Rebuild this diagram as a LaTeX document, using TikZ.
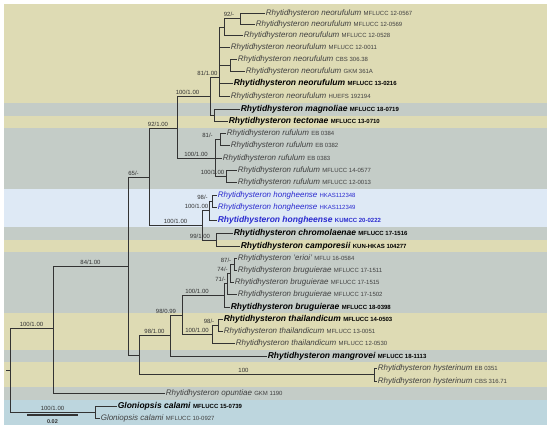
\documentclass[tikz,border=0pt]{standalone}
\usepackage{fontspec}
\setmainfont{Liberation Sans}
\definecolor{bandkhaki}{HTML}{DEDBB4}
\definecolor{bandgrey}{HTML}{C4CCC7}
\definecolor{bandsky}{HTML}{DEE9F5}
\definecolor{bandteal}{HTML}{BDD6DE}
\definecolor{ink}{HTML}{333333}
\definecolor{txt}{HTML}{404040}
\definecolor{hongblue}{HTML}{2A2ACF}
\newcommand{\taxon}[2]{\textit{#1}~{\fontsize{6}{7}\selectfont #2}}

\begin{document}
\begin{tikzpicture}[
  x=1pt, y=-1pt,
  br/.style={draw=ink, line width=0.8pt},
  leaf/.style={anchor=west, inner sep=0.6pt, text=txt, font=\fontsize{8}{9}\selectfont},
  leafb/.style={leaf, text=black, font=\fontsize{8.5}{10}\selectfont\bfseries},
  supp/.style={above, inner sep=1.5pt, text=ink, font=\fontsize{6}{7}\selectfont}
]
\fill[white] (0,0) rectangle (550,429);
\useasboundingbox (0,0) rectangle (550,429);
% clade bands
\foreach \ya/\yb/\col in {4/103/bandkhaki,103/116/bandgrey,116/128/bandkhaki,
    128/189/bandgrey,189/227/bandsky,227/240/bandgrey,240/252/bandkhaki,
    252/313/bandgrey,313/350/bandkhaki,350/362/bandgrey,362/387/bandkhaki,
    387/400/bandgrey,400/425/bandteal}
  \fill[\col] (4,\ya) rectangle (547,\yb);

% taxa
\node[leaf]  (l1)  at (265,13)  {\taxon{Rhytidhysteron neorufulum}{MFLUCC 12-0567}};
\node[leaf]  (l2)  at (255,24)  {\taxon{Rhytidhysteron neorufulum}{MFLUCC 12-0569}};
\node[leaf]  (l3)  at (243,35)  {\taxon{Rhytidhysteron neorufulum}{MFLUCC 12-0528}};
\node[leaf]  (l4)  at (230,47)  {\taxon{Rhytidhysteron neorufulum}{MFLUCC 12-0011}};
\node[leaf]  (l5)  at (237,59)  {\taxon{Rhytidhysteron neorufulum}{CBS 306.38}};
\node[leaf]  (l6)  at (245,71)  {\taxon{Rhytidhysteron neorufulum}{GKM 361A}};
\node[leafb] (l7)  at (233,83)  {\taxon{Rhytidhysteron neorufulum}{MFLUCC 13-0216}};
\node[leaf]  (l8)  at (230,96)  {\taxon{Rhytidhysteron neorufulum}{HUEFS 192194}};
\node[leafb] (l9)  at (240,109) {\taxon{Rhytidhysteron magnoliae}{MFLUCC 18-0719}};
\node[leafb] (l10) at (228,121) {\taxon{Rhytidhysteron tectonae}{MFLUCC 13-0710}};
\node[leaf]  (l11) at (226,133) {\taxon{Rhytidhysteron rufulum}{EB 0384}};
\node[leaf]  (l12) at (230,145) {\taxon{Rhytidhysteron rufulum}{EB 0382}};
\node[leaf]  (l13) at (222,158) {\taxon{Rhytidhysteron rufulum}{EB 0383}};
\node[leaf]  (l14) at (237,170) {\taxon{Rhytidhysteron rufulum}{MFLUCC 14-0577}};
\node[leaf]  (l15) at (237,182) {\taxon{Rhytidhysteron rufulum}{MFLUCC 12-0013}};
\node[leaf, text=hongblue]  (l16) at (217,195) {\taxon{Rhytidhysteron hongheense}{HKAS112348}};
\node[leaf, text=hongblue]  (l17) at (217,207) {\taxon{Rhytidhysteron hongheense}{HKAS112349}};
\node[leafb, text=hongblue] (l18) at (217,220) {\taxon{Rhytidhysteron hongheense}{KUMCC 20-0222}};
\node[leafb] (l19) at (233,233) {\taxon{Rhytidhysteron chromolaenae}{MFLUCC 17-1516}};
\node[leafb] (l20) at (240,246) {\taxon{Rhytidhysteron camporesii}{KUN-HKAS 104277}};
\node[leaf]  (l21) at (237,258) {\taxon{Rhytidhysteron 'erioi'}{MFLU 16-0584}};
\node[leaf]  (l22) at (237,270) {\taxon{Rhytidhysteron bruguierae}{MFLUCC 17-1511}};
\node[leaf]  (l23) at (234,282) {\taxon{Rhytidhysteron bruguierae}{MFLUCC 17-1515}};
\node[leaf]  (l24) at (237,294) {\taxon{Rhytidhysteron bruguierae}{MFLUCC 17-1502}};
\node[leafb] (l25) at (230,307) {\taxon{Rhytidhysteron bruguierae}{MFLUCC 18-0398}};
\node[leafb] (l26) at (223,319) {\taxon{Rhytidhysteron thailandicum}{MFLUCC 14-0503}};
\node[leaf]  (l27) at (223,331) {\taxon{Rhytidhysteron thailandicum}{MFLUCC 13-0051}};
\node[leaf]  (l28) at (235,343) {\taxon{Rhytidhysteron thailandicum}{MFLUCC 12-0530}};
\node[leafb] (l29) at (267,356) {\taxon{Rhytidhysteron mangrovei}{MFLUCC 18-1113}};
\node[leaf]  (l30) at (377,368) {\taxon{Rhytidhysteron hysterinum}{EB 0351}};
\node[leaf]  (l31) at (377,381) {\taxon{Rhytidhysteron hysterinum}{CBS 316.71}};
\node[leaf]  (l32) at (165,393) {\taxon{Rhytidhysteron opuntiae}{GKM 1190}};
\node[leafb] (l33) at (117,406) {\taxon{Gloniopsis calami}{MFLUCC 15-0739}};
\node[leaf]  (l34) at (100,418) {\taxon{Gloniopsis calami}{MFLUCC 10-0927}};

% internal nodes
\coordinate (stub) at (6,370);
\coordinate (root) at (10,370);
\coordinate (G)    at (95,412);
\coordinate (A)    at (53,328);
\coordinate (B)    at (128,266);
\coordinate (C)    at (149,177);
\coordinate (D)    at (177,128);
\coordinate (N100) at (210,96);
\coordinate (N81n) at (219,77);
\coordinate (P)    at (224,27);
\coordinate (Q92)  at (240,18.5);
\coordinate (CG)   at (230,65);
\coordinate (MT)   at (214,115);
\coordinate (Ru)   at (215,158);
\coordinate (N81r) at (220,139);
\coordinate (N100r) at (226,176);
\coordinate (O)    at (202,225);
\coordinate (Hong) at (209,210);
\coordinate (N98h) at (212,201);
\coordinate (Chrom) at (216,240);
\coordinate (E)    at (139,355);
\coordinate (F)    at (170,335);
\coordinate (H)    at (182,315);
\coordinate (I)    at (224,295);
\coordinate (N71)  at (227,283);
\coordinate (N74)  at (230,273);
\coordinate (N87)  at (234,264);
\coordinate (J)    at (212,334);
\coordinate (K)    at (218,325);
\coordinate (Hy)   at (374,374);

% branches
\draw[br] (stub) -- (root);
\draw[br] (root) |- node[supp,pos=.75]{100/1.00} (A);
\draw[br] (root) |- node[supp,pos=.75]{100/1.00} (G);
\draw[br] (G) |- (l33);
\draw[br] (G) |- (l34);
\draw[br] (A) |- node[supp,pos=.75]{84/1.00} (B);
\draw[br] (A) |- (l32);
\draw[br] (B) |- node[supp,pos=.75,xshift=-5pt]{65/-} (C);
\draw[br] (B) |- (E);
\draw[br] (C) |- node[supp,pos=.75,xshift=-5pt]{92/1.00} (D);
\draw[br] (C) |- node[supp,pos=.75]{100/1.00} (O);
\draw[br] (D) |- node[supp,pos=.75,xshift=-6pt]{100/1.00} (N100);
\draw[br] (D) |- node[supp,pos=.75]{100/1.00} (Ru);
\draw[br] (N100) |- node[supp,pos=.75,xshift=-7pt]{81/1.00} (N81n);
\draw[br] (N100) |- (MT);
\draw[br] (N81n) |- (P);
\draw[br] (N81n) |- (l4);
\draw[br] (N81n) |- (CG);
\draw[br] (N81n) |- (l7);
\draw[br] (N81n) |- (l8);
\draw[br] (P) |- node[supp,pos=.75,xshift=-3pt]{92/-} (Q92);
\draw[br] (P) |- (l3);
\draw[br] (Q92) |- (l1);
\draw[br] (Q92) |- (l2);
\draw[br] (CG) |- (l5);
\draw[br] (CG) |- (l6);
\draw[br] (MT) |- (l9);
\draw[br] (MT) |- (l10);
\draw[br] (Ru) |- node[supp,pos=.75,xshift=-10pt]{81/-} (N81r);
\draw[br] (Ru) |- (l13);
\draw[br] (Ru) |- node[supp,pos=.75,xshift=-8pt]{100/1.00} (N100r);
\draw[br] (N81r) |- (l11);
\draw[br] (N81r) |- (l12);
\draw[br] (N100r) |- (l14);
\draw[br] (N100r) |- (l15);
\draw[br] (O) |- node[supp,pos=.75,xshift=-9pt]{100/1.00} (Hong);
\draw[br] (O) |- node[supp,pos=.75,xshift=-9pt]{99/1.00} (Chrom);
\draw[br] (Hong) |- node[supp,pos=.75,xshift=-8pt]{98/-} (N98h);
\draw[br] (Hong) |- (l18);
\draw[br] (N98h) |- (l16);
\draw[br] (N98h) |- (l17);
\draw[br] (Chrom) |- (l19);
\draw[br] (Chrom) |- (l20);
\draw[br] (E) |- node[supp,pos=.75]{98/1.00} (F);
\draw[br] (E) |- node[supp,pos=.75,xshift=-13pt]{100} (Hy);
\draw[br] (F) |- node[supp,pos=.75,xshift=-10pt]{98/0.99} (H);
\draw[br] (F) |- (l29);
\draw[br] (H) |- node[supp,pos=.75,xshift=-6pt]{100/1.00} (I);
\draw[br] (H) |- node[supp,pos=.75]{100/1.00} (J);
\draw[br] (I) |- node[supp,pos=.75,xshift=-5pt]{71/-} (N71);
\draw[br] (I) |- (l25);
\draw[br] (N71) |- node[supp,pos=.75,xshift=-6pt]{74/-} (N74);
\draw[br] (N71) |- (l24);
\draw[br] (N74) |- node[supp,pos=.75,xshift=-6pt]{87/-} (N87);
\draw[br] (N74) |- (l23);
\draw[br] (N87) |- (l21);
\draw[br] (N87) |- (l22);
\draw[br] (J) |- node[supp,pos=.75,xshift=-6pt]{98/-} (K);
\draw[br] (J) |- (l28);
\draw[br] (K) |- (l26);
\draw[br] (K) |- (l27);
\draw[br] (Hy) |- (l30);
\draw[br] (Hy) |- (l31);

% scale bar
\coordinate (sb1) at (27,415);
\coordinate (sb2) at (78,415);
\draw[draw=ink, line width=1.4pt] (sb1) -- node[below=1pt, font=\fontsize{5.5}{6}\selectfont\bfseries, text=ink]{0.02} (sb2);
\end{tikzpicture}
\end{document}
